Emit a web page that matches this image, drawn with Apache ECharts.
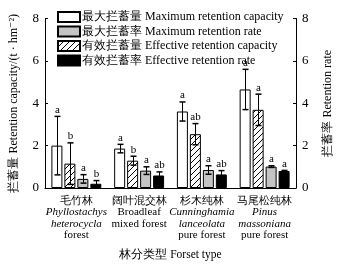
<!DOCTYPE html>
<html>
<head>
<meta charset="utf-8">
<script src="https://cdn.jsdelivr.net/npm/echarts@6/dist/echarts.min.js"></script>
<style>html,body{margin:0;padding:0;background:#fff;}#main{width:342px;height:266px;}</style>
</head>
<body>
<div id="main"></div>
<script>
// ---- data ----
const categories = ['毛竹林', '阔叶混交林', '杉木纯林', '马尾松纯林'];
const subLabels = [
  [['Phyllostachys', true], ['heterocycla', true], ['forest', false]],
  [['Broadleaf', false], ['mixed forest', false]],
  [['Cunninghamia', true], ['lanceolata', true], ['pure forest', false]],
  [['Pinus', true], ['massoniana', true], ['pure forest', false]]
];
const yTicks = [0, 2, 4, 6, 8];

const seriesNames = [
  '最大拦蓄量 Maximum retention capacity',
  '有效拦蓄量 Effective retention capacity',
  '最大拦蓄率 Maximum retention rate',
  '有效拦蓄率 Effective retention rate'
];
const legendOrder = [
  '最大拦蓄量 Maximum retention capacity',
  '最大拦蓄率 Maximum retention rate',
  '有效拦蓄量 Effective retention capacity',
  '有效拦蓄率 Effective retention rate'
];
const maxCapacity = [2.0, 1.86, 3.61, 4.65];
const maxCapacityErr = [1.38, 0.2, 0.45, 0.95];
const maxCapacityLetters = ['a', 'a', 'a', 'a'];
const effCapacity = [1.15, 1.29, 2.54, 3.69];
const effCapacityErr = [0.98, 0.21, 0.5, 0.74];
const effCapacityLetters = ['b', 'b', 'ab', 'a'];
const maxRate = [0.43, 0.82, 0.85, 1.01];
const maxRateErr = [0.2, 0.18, 0.2, 0.04];
const maxRateLetters = ['a', 'a', 'a', 'a'];
const effRate = [0.2, 0.59, 0.64, 0.8];
const effRateErr = [0.15, 0.17, 0.18, 0.03];
const effRateLetters = ['b', 'ab', 'ab', 'a'];

// ---- styling ----
const FONT = '"Liberation Serif", "DejaVu Serif", serif';
const BAR_W = 11;
const BAR_GAP = 0.18;

function hatch() {
  const c = document.createElement('canvas');
  c.width = 6; c.height = 6;
  const g = c.getContext('2d');
  g.fillStyle = '#fff'; g.fillRect(0, 0, 6, 6);
  g.strokeStyle = '#000'; g.lineWidth = 1;
  g.beginPath();
  g.moveTo(0, 6); g.lineTo(6, 0);
  g.moveTo(-3, 3); g.lineTo(3, -3);
  g.moveTo(3, 9); g.lineTo(9, 3);
  g.stroke();
  return c;
}

const fills = ['#ffffff', { image: hatch(), repeat: 'repeat' }, '#c4c4c4', '#000000'];
const means = [maxCapacity, effCapacity, maxRate, effRate];
const errs = [maxCapacityErr, effCapacityErr, maxRateErr, effRateErr];
const letters = [maxCapacityLetters, effCapacityLetters, maxRateLetters, effRateLetters];
const yIdx = [0, 0, 1, 1];

const step = BAR_W * (1 + BAR_GAP);
const totalW = BAR_W * 4 + BAR_W * BAR_GAP * 3;

const series = [];
for (let s = 0; s < 4; s++) {
  series.push({
    name: seriesNames[s],
    type: 'bar',
    yAxisIndex: yIdx[s],
    barWidth: BAR_W,
    barGap: (BAR_GAP * 100) + '%',
    data: means[s],
    itemStyle: { color: fills[s], borderColor: '#000', borderWidth: 1 },
    emphasis: { disabled: true },
    z: 2
  });
}
for (let s = 0; s < 4; s++) {
  const off = -totalW / 2 + BAR_W / 2 + s * step;
  series.push({
    type: 'custom',
    yAxisIndex: yIdx[s],
    silent: true,
    z: 5,
    data: means[s].map((v, i) => [i, v, errs[s][i]]),
    encode: { x: 0, y: 1 },
    renderItem: function (params, api) {
      const i = api.value(0), m = api.value(1), e = api.value(2);
      const top = api.coord([i, m + e]);
      const bot = api.coord([i, Math.max(0, m - e)]);
      const cx = Math.round(top[0] + off) + 0.5;
      const cap = 3;
      return {
        type: 'group',
        children: [
          { type: 'line', shape: { x1: cx, y1: top[1], x2: cx, y2: bot[1] }, style: { stroke: '#000', lineWidth: 1 } },
          { type: 'line', shape: { x1: cx - cap, y1: top[1], x2: cx + cap, y2: top[1] }, style: { stroke: '#000', lineWidth: 1.5 } },
          { type: 'line', shape: { x1: cx - cap, y1: bot[1], x2: cx + cap, y2: bot[1] }, style: { stroke: '#000', lineWidth: 1.5 } },
          { type: 'text', x: cx, y: top[1] - 1, style: { text: letters[s][params.dataIndex], fill: '#000', font: '11px ' + FONT, align: 'center', verticalAlign: 'bottom' } }
        ]
      };
    }
  });
}

const rich = {
  cn: { fontFamily: FONT, fontSize: 11, lineHeight: 11.5, color: '#000' },
  it: { fontFamily: FONT, fontSize: 11, lineHeight: 11.5, fontStyle: 'italic', color: '#000' },
  rm: { fontFamily: FONT, fontSize: 11, lineHeight: 11.5, color: '#000' }
};

const chart = echarts.init(document.getElementById('main'), null, { renderer: 'canvas' });
chart.setOption({
  animation: false,
  backgroundColor: '#fff',
  textStyle: { fontFamily: FONT },
  grid: { left: 41.5, right: 44, top: 18.5, bottom: 76, containLabel: false },
  legend: {
    data: legendOrder.map(n => ({ name: n, icon: 'rect' })),
    orient: 'vertical',
    left: 57, top: 11,
    itemWidth: 22, itemHeight: 10, itemGap: 2.5,
    selectedMode: false,
    textStyle: { fontFamily: FONT, fontSize: 12, color: '#000', padding: [0, 0, 0, -3] },
    padding: 0
  },
  xAxis: {
    type: 'category',
    data: categories,
    axisLine: { lineStyle: { color: '#000', width: 1 } },
    axisTick: { show: false },
    axisLabel: {
      interval: 0, margin: 7,
      formatter: function (v, idx) {
        const lines = ['{cn|' + v + '}'];
        subLabels[idx].forEach(l => lines.push('{' + (l[1] ? 'it' : 'rm') + '|' + l[0] + '}'));
        return lines.join('\n');
      },
      rich: rich
    },
    name: '林分类型 Forset type',
    nameLocation: 'middle',
    nameGap: 61,
    nameTextStyle: { fontFamily: FONT, fontSize: 11.5, color: '#000' }
  },
  yAxis: [0, 1].map(k => ({
    type: 'value',
    position: k === 0 ? 'left' : 'right',
    min: yTicks[0], max: yTicks[yTicks.length - 1], interval: yTicks[1] - yTicks[0],
    splitLine: { show: false },
    axisLine: { show: true, lineStyle: { color: '#000', width: 1 } },
    axisTick: { show: true, inside: true, length: 3, lineStyle: { color: '#000' } },
    axisLabel: { color: '#000', fontFamily: FONT, fontSize: 13, margin: 6 },
    name: k === 0 ? '拦蓄量 Retention capacity/(t · hm⁻²)' : '拦蓄率 Retention rate',
    nameLocation: 'middle',
    nameRotate: 90,
    nameGap: k === 0 ? 25 : 26,
    nameTextStyle: { fontFamily: FONT, fontSize: 12, color: '#000' }
  })),
  series: series
});
</script>
</body>
</html>
